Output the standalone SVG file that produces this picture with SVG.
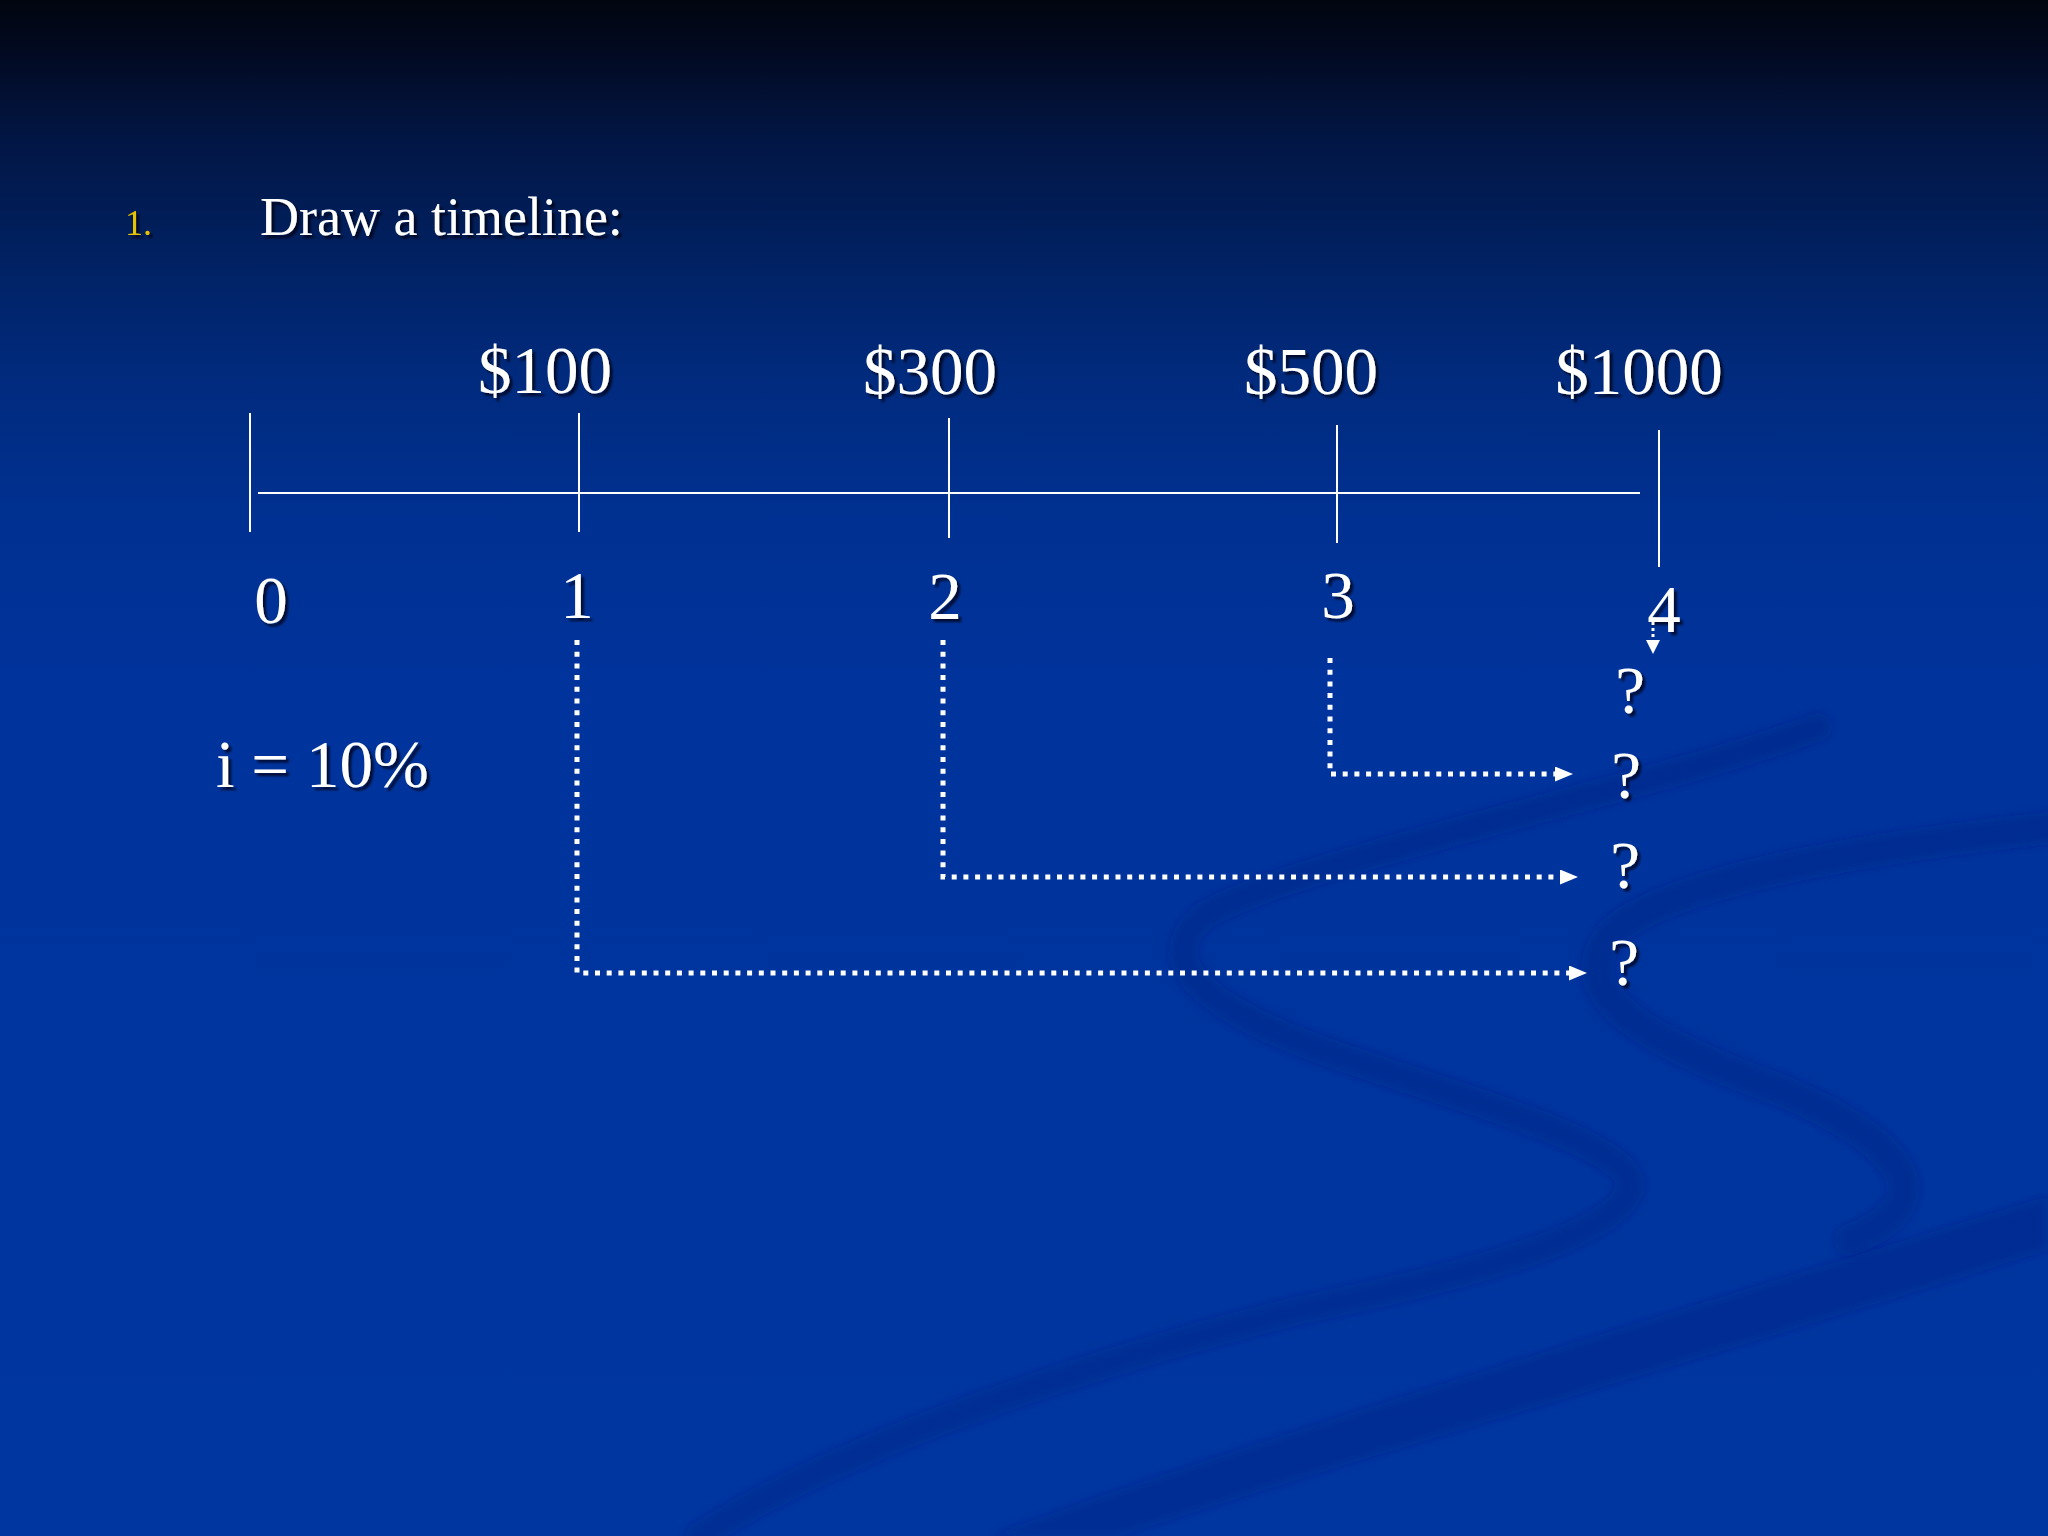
<svg xmlns="http://www.w3.org/2000/svg" width="2048" height="1536" viewBox="0 0 2048 1536">
<defs>
<linearGradient id="bg" x1="0" y1="0" x2="0" y2="1">
<stop offset="0" stop-color="#01050f"/>
<stop offset="0.035" stop-color="#020a22"/>
<stop offset="0.09" stop-color="#021644"/>
<stop offset="0.16" stop-color="#01205f"/>
<stop offset="0.24" stop-color="#012a7c"/>
<stop offset="0.33" stop-color="#003090"/>
<stop offset="0.45" stop-color="#00339c"/>
<stop offset="1" stop-color="#0036a0"/>
</linearGradient>
<filter id="sh" x="-10%" y="-10%" width="130%" height="140%">
<feDropShadow dx="3" dy="3" stdDeviation="1.2" flood-color="#000010" flood-opacity="0.75"/>
</filter>
<filter id="blur" x="-10%" y="-10%" width="120%" height="120%">
<feGaussianBlur stdDeviation="5"/>
</filter>
<marker id="arr" viewBox="0 0 18 15" refX="0" refY="7.5" markerWidth="18" markerHeight="15" markerUnits="userSpaceOnUse" orient="auto">
<path d="M0,0 L18,7.5 L0,15 Z" fill="#ffffff"/>
</marker>
<marker id="arrs" viewBox="0 0 14 14" refX="0" refY="7" markerWidth="14" markerHeight="14" markerUnits="userSpaceOnUse" orient="auto">
<path d="M0,0 L14,7 L0,14 Z" fill="#ffffff"/>
</marker>
</defs>
<style>
.t{font-family:"Liberation Serif","Times New Roman",serif;fill:#ffffff;filter:url(#sh);}
.big{font-size:67px;}
.tick{stroke:#ffffff;stroke-width:2;fill:none;}
.dot{stroke:#ffffff;stroke-width:5;fill:none;stroke-dasharray:5 6.7;marker-end:url(#arr);}
.sw{fill:none;stroke:#00237a;stroke-opacity:0.32;stroke-linecap:round;filter:url(#blur);}
</style>
<rect x="0" y="0" width="2048" height="1536" fill="url(#bg)"/>
<g id="background-swooshes">
<path class="sw" stroke-width="28" d="M1818,727 C1650,790 1300,860 1205,915 C1150,960 1200,1010 1350,1060 C1500,1110 1640,1150 1630,1190 C1610,1240 1450,1280 1300,1310 C1100,1360 850,1440 700,1536"/>
<path class="sw" stroke-width="32" d="M2048,828 C1850,850 1680,880 1615,930 C1560,990 1640,1040 1780,1090 C1900,1140 1950,1200 1850,1240"/>
<path fill="#00237a" fill-opacity="0.35" filter="url(#blur)" d="M2048,1196 L2048,1250 C1700,1360 1350,1460 1120,1536 L990,1536 C1250,1440 1650,1320 2048,1196 Z"/>
</g>
<g id="title">
<text x="125" y="235" font-family="Liberation Serif, serif" font-size="36" fill="#e6c200" filter="url(#sh)">1.</text>
<text class="t" x="260" y="235" font-size="54">Draw a timeline:</text>
</g>
<g id="timeline">
<line class="tick" x1="258" y1="493" x2="1640" y2="493"/>
<line class="tick" x1="250" y1="413" x2="250" y2="532"/>
<line class="tick" x1="579" y1="413" x2="579" y2="532"/>
<line class="tick" x1="949" y1="418" x2="949" y2="538"/>
<line class="tick" x1="1337" y1="425" x2="1337" y2="543"/>
<line class="tick" x1="1659" y1="430" x2="1659" y2="567"/>
</g>
<g id="amounts">
<text class="t big" x="545" y="393" text-anchor="middle">$100</text>
<text class="t big" x="930" y="394" text-anchor="middle">$300</text>
<text class="t big" x="1311" y="394" text-anchor="middle">$500</text>
<text class="t big" x="1639" y="394" text-anchor="middle">$1000</text>
</g>
<g id="periods">
<text class="t big" x="271" y="623" text-anchor="middle">0</text>
<text class="t big" x="577" y="618" text-anchor="middle">1</text>
<text class="t big" x="945" y="619" text-anchor="middle">2</text>
<text class="t big" x="1338" y="618" text-anchor="middle">3</text>
<text class="t big" x="1664" y="632" text-anchor="middle">4</text>
</g>
<g id="rate">
<text class="t big" x="216" y="787">i = 10%</text>
</g>
<g id="unknowns">
<text class="t big" x="1630" y="713" text-anchor="middle">?</text>
<text class="t big" x="1626" y="798" text-anchor="middle">?</text>
<text class="t big" x="1625" y="888" text-anchor="middle">?</text>
<text class="t big" x="1624" y="985" text-anchor="middle">?</text>
</g>
<g id="connectors">
<path class="dot" d="M1330,658 L1330,774 L1555,774"/>
<path class="dot" d="M943,640 L943,877 L1560,877"/>
<path class="dot" d="M577,640 L577,973 L1569,973"/>
<path d="M1653,622 L1653,640" stroke="#ffffff" stroke-width="3" stroke-dasharray="3 3" fill="none" marker-end="url(#arrs)"/>
</g>
</svg>
